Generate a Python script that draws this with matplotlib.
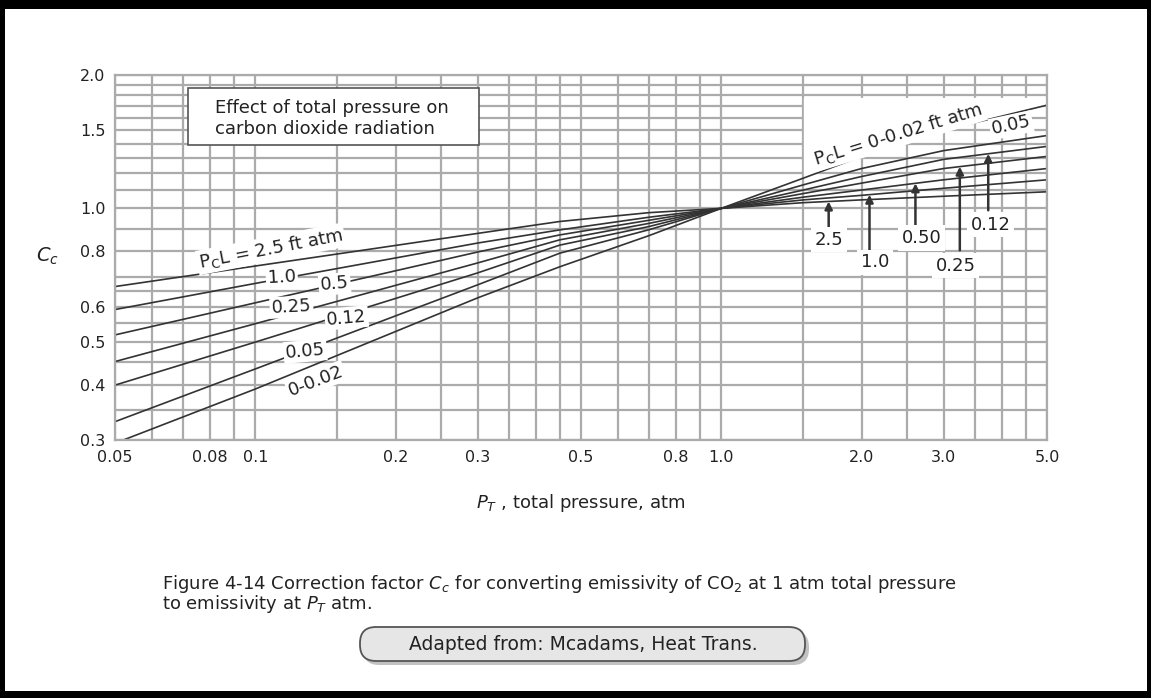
import numpy as np
import matplotlib
matplotlib.use("Agg")
import matplotlib.pyplot as plt
from matplotlib.patches import Rectangle, FancyBboxPatch

# total pressure (atm) at which each curve was read
pressure = [0.05, 0.1, 0.3, 0.45, 0.7, 1.0, 1.5, 2.0, 3.0, 5.0]

# correction factor Cc for each PcL (ft atm)
cc_2p5 = [0.666, 0.741, 0.878, 0.934, 0.978, 1.0, 1.03, 1.045, 1.065, 1.09]
cc_1p0 = [0.591, 0.677, 0.835, 0.894, 0.955, 1.0, 1.045, 1.07, 1.11, 1.16]
cc_0p5 = [0.518, 0.612, 0.797, 0.871, 0.940, 1.0, 1.06, 1.10, 1.16, 1.23]
cc_0p25 = [0.451, 0.549, 0.753, 0.849, 0.925, 1.0, 1.08, 1.14, 1.23, 1.31]
cc_0p12 = [0.399, 0.499, 0.715, 0.826, 0.910, 1.0, 1.10, 1.18, 1.29, 1.38]
cc_0p05 = [0.330, 0.434, 0.672, 0.792, 0.895, 1.0, 1.13, 1.23, 1.35, 1.46]
cc_0p02 = [0.295, 0.391, 0.628, 0.738, 0.868, 1.0, 1.17, 1.31, 1.50, 1.71]
curves = [cc_2p5, cc_1p0, cc_0p5, cc_0p25, cc_0p12, cc_0p05, cc_0p02]

x_ticks = [0.05, 0.08, 0.1, 0.2, 0.3, 0.5, 0.8, 1.0, 2.0, 3.0, 5.0]
x_ticklabels = ["0.05", "0.08", "0.1", "0.2", "0.3", "0.5", "0.8", "1.0", "2.0", "3.0", "5.0"]
x_grid = [0.06, 0.07, 0.09, 0.15, 0.25, 0.35, 0.4, 0.45, 0.6, 0.7, 0.9,
          1.5, 2.5, 3.5, 4.0, 4.5]
y_ticks = [0.3, 0.4, 0.5, 0.6, 0.8, 1.0, 1.5, 2.0]
y_ticklabels = ["0.3", "0.4", "0.5", "0.6", "0.8", "1.0", "1.5", "2.0"]
y_grid = [0.35, 0.45, 0.55, 0.65, 0.7, 0.9, 1.1, 1.2, 1.3, 1.4, 1.6, 1.7, 1.8, 1.9]

# curves flagged by arrows on the high-pressure side
arrow_labels = ["2.5", "1.0", "0.50", "0.25", "0.12"]
arrow_curve = [0, 1, 2, 3, 4]
arrow_pt = [1.70, 2.08, 2.61, 3.25, 3.74]
arrow_tail = [0.903, 0.804, 0.909, 0.804, 0.99]
arrow_text_xy = [(1.70, 0.849), (2.14, 0.756), (2.69, 0.857), (3.18, 0.743), (3.78, 0.918)]

GRID = "#ababab"
INK = "#333333"
TXT = "#222222"
FS = 11.5

plt.rcParams["font.family"] = ["DejaVu Sans"]
plt.rcParams["mathtext.fontset"] = "dejavusans"

fig = plt.figure(figsize=(11.51, 6.98), dpi=100)
ax = fig.add_axes([115 / 1151, 1 - 440 / 698, 932 / 1151, 365 / 698])
ax.set_xscale("log")
ax.set_yscale("log")
ax.set_xlim(0.05, 5.0)
ax.set_ylim(0.3, 2.0)

ax.set_xticks(x_ticks)
ax.set_xticklabels(x_ticklabels)
ax.set_xticks(x_grid, minor=True)
ax.set_xticklabels([], minor=True)
ax.set_yticks(y_ticks)
ax.set_yticklabels(y_ticklabels)
ax.set_yticks(y_grid, minor=True)
ax.set_yticklabels([], minor=True)
ax.tick_params(which="both", length=0, labelsize=FS, colors=TXT, pad=7)
ax.grid(which="both", color=GRID, lw=1.6)
ax.set_axisbelow(True)
for s in ax.spines.values():
    s.set_color(GRID)
    s.set_linewidth(1.6)

ax.set_xlabel("$P_T$ , total pressure, atm", fontsize=13, labelpad=20, color=TXT)
fig.text(36 / 1151, 1 - 256 / 698, "$C_c$", fontsize=14, va="center", color=TXT)

# blank out the grid above the curve bundle where the right-hand labels sit
hi = [i for i, p in enumerate(pressure) if p >= 1.5]
ax.fill_between([pressure[i] for i in hi], [cc_0p02[i] for i in hi], 1.78,
                color="white", lw=0, zorder=1.5)

for c in curves:
    ax.plot(pressure, c, color=INK, lw=1.2, zorder=2, solid_capstyle="butt")

lbl = dict(fontsize=13, color=TXT, ha="center", va="center", zorder=4)
wb = dict(boxstyle="square,pad=0.1", fc="white", ec="none")

ax.text(0.108, 0.81, "P$_\\mathregular{C}$L = 2.5 ft atm", rotation=11, bbox=wb, **lbl)
ax.text(0.114, 0.700, "1.0", rotation=3, bbox=wb, **lbl)
ax.text(0.148, 0.675, "0.5", rotation=5, bbox=wb, **lbl)
ax.text(0.1196, 0.599, "0.25", rotation=3, bbox=wb, **lbl)
ax.text(0.157, 0.566, "0.12", rotation=5, bbox=wb, **lbl)
ax.text(0.128, 0.476, "0.05", rotation=5, bbox=wb, **lbl)
ax.text(0.135, 0.408, "0-0.02", rotation=21, bbox=wb, **lbl)

ax.text(2.40, 1.47, "P$_\\mathregular{C}$L = 0-0.02 ft atm", rotation=17, bbox=wb, **lbl)
ax.text(4.19, 1.54, "0.05", rotation=12, bbox=wb, **lbl)

logp = np.log10(pressure)
for name, ci, pt, tail, (tx, ty) in zip(arrow_labels, arrow_curve, arrow_pt,
                                        arrow_tail, arrow_text_xy):
    tip = 10 ** np.interp(np.log10(pt), logp, np.log10(curves[ci]))
    ax.annotate("", xy=(pt, tip), xytext=(pt, tail), zorder=3,
                arrowprops=dict(arrowstyle="-|>", color=INK, lw=1.8,
                                mutation_scale=11, shrinkA=0, shrinkB=0))
    ax.text(tx, ty, name, bbox=dict(boxstyle="square,pad=0.2", fc="white", ec="none"), **lbl)

# title box in the upper left corner
ax.add_patch(Rectangle((0.078, 0.808), 0.313, 0.156, transform=ax.transAxes,
                       fc="white", ec="#555555", lw=1.2, zorder=4.5))
ax.text(0.107, 0.934, "Effect of total pressure on\ncarbon dioxide radiation",
        transform=ax.transAxes, fontsize=13, color=TXT, va="top", ha="left",
        linespacing=1.2, zorder=5)

# caption
cap = dict(fontsize=13, color=TXT, ha="left", va="center")
fig.text(162 / 1151, 1 - 584 / 698,
         "Figure 4-14 Correction factor $C_c$ for converting emissivity of CO$_2$ "
         "at 1 atm total pressure", **cap)
fig.text(162 / 1151, 1 - 604 / 698, "to emissivity at $P_T$ atm.", **cap)

# source badge
bx = fig.add_axes([355 / 1151, 1 - 668 / 698, 456 / 1151, 44 / 698])
bx.set_xlim(0, 456)
bx.set_ylim(0, 44)
bx.axis("off")
bx.add_patch(FancyBboxPatch((8, 3), 446, 34, boxstyle="round,pad=0,rounding_size=16",
                            fc="#9a9a9a", ec="none", alpha=0.6))
bx.add_patch(FancyBboxPatch((5, 7), 445, 34, boxstyle="round,pad=0,rounding_size=16",
                            fc="#e6e6e6", ec="#555555", lw=1.3))
bx.text(228, 24, "Adapted from: Mcadams, Heat Trans.", fontsize=13.5, ha="center",
        va="center", color=TXT)

# outer frame
for x0, y0, w, h in [(0, 691, 1151, 7), (0, 0, 1151, 9), (0, 0, 5, 698), (1147, 0, 4, 698)]:
    fig.add_artist(Rectangle((x0 / 1151, 1 - (y0 + h) / 698), w / 1151, h / 698,
                             transform=fig.transFigure, fc="black", ec="none"))

fig.savefig("out.png", dpi=100, facecolor="white")
